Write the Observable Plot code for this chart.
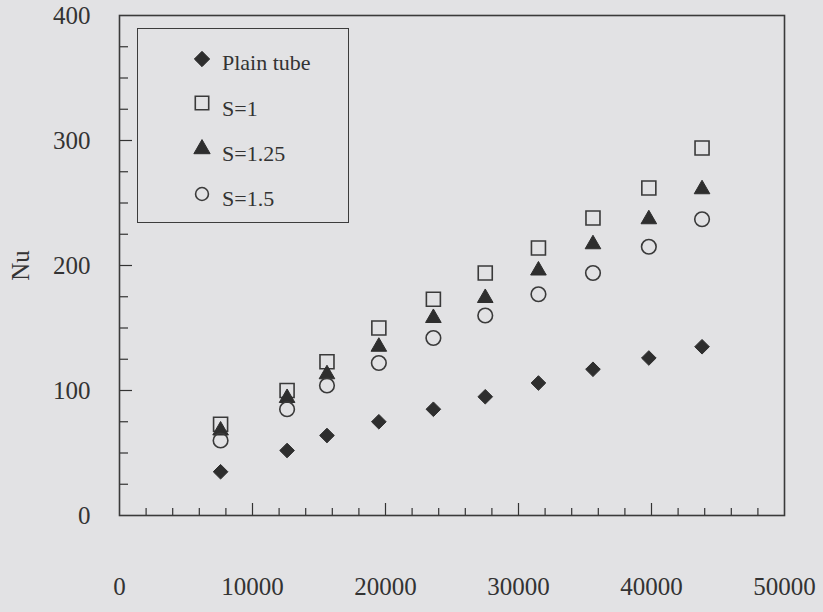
<!DOCTYPE html>
<html><head><meta charset="utf-8">
<script src="https://cdn.jsdelivr.net/npm/d3@7"></script>
<script src="https://cdn.jsdelivr.net/npm/@observablehq/plot@0.6"></script>
<style>
body{margin:0;background:#e2e2e4;}
#wrap{position:relative;width:823px;height:612px;background:#e2e2e4;font-family:"Liberation Serif",serif;color:#333;overflow:hidden;}
#wrap svg.plot{position:absolute;left:0;top:0;}
#legend{position:absolute;left:137px;top:28px;width:212px;height:195px;border:1.5px solid #3c3c3c;box-sizing:border-box;}
.sym{position:absolute;width:24px;height:24px;}
.lab{position:absolute;font-size:22px;line-height:26px;white-space:nowrap;color:#333;}
</style></head><body><div id="wrap"><div id="legend"></div></div>
<script>
// Reynolds number (x) and Nusselt number (y)
const re = [7600, 12600, 15600, 19500, 23600, 27500, 31500, 35600, 39800, 43800];
const plainTube = [35, 52, 64, 75, 85, 95, 106, 117, 126, 135];
const s1 = [73, 100, 123, 150, 173, 194, 214, 238, 262, 294];
const s125 = [68, 94, 113, 135, 158, 174, 196, 217, 237, 261];
const s15 = [60, 85, 104, 122, 142, 160, 177, 194, 215, 237];
const seriesNames = ["Plain tube", "S=1", "S=1.25", "S=1.5"];
const xTickLabels = [0, 10000, 20000, 30000, 40000, 50000];
const yTickLabels = [0, 100, 200, 300, 400];
const xMajorTicks = [10000, 20000, 30000, 40000];
const xMinorTicks = d3.range(2000, 50000, 2000).filter(v => v % 10000 !== 0);
const yMajorTicks = [100, 200, 300];
const yMinorTicks = d3.range(25, 400, 25).filter(v => v % 100 !== 0);

const W = 823, H = 612, mL = 119, mR = 39, mT = 15, mB = 97;
const plotW = W - mL - mR, plotH = H - mT - mB;
const ink = "#333";
const pts = arr => arr.map((v, i) => ({x: re[i], y: v}));

const chart = Plot.plot({
  width: W, height: H,
  marginLeft: mL, marginRight: mR, marginTop: mT, marginBottom: mB,
  style: {background: "transparent", fontFamily: "Liberation Serif, serif", color: ink},
  x: {domain: [0, 50000]},
  y: {domain: [0, 400]},
  marks: [
    Plot.axisX(xTickLabels, {tickSize: 0, tickPadding: 62, fontSize: 25, tickFormat: d => String(d), label: null}),
    Plot.axisY(yTickLabels, {tickSize: 0, tickPadding: 29, fontSize: 25, tickFormat: d => String(d), label: "Nu", labelAnchor: "center", labelArrow: "none", labelOffset: 108}),
    Plot.tickX(xMinorTicks, {x: d => d, insetTop: plotH - 7, stroke: ink, strokeWidth: 1.2}),
    Plot.tickX(xMajorTicks, {x: d => d, insetTop: plotH - 12, stroke: ink, strokeWidth: 1.2}),
    Plot.tickY(yMinorTicks, {y: d => d, insetRight: plotW - 9, stroke: ink, strokeWidth: 1.2}),
    Plot.tickY(yMajorTicks, {y: d => d, insetRight: plotW - 13, stroke: ink, strokeWidth: 1.2}),
    Plot.frame({stroke: "#3a3a3a", strokeWidth: 1.6}),
    Plot.dot(pts(plainTube), {x: "x", y: "y", symbol: "diamond2", r: 6.6, fill: "#2e2e2e", stroke: "#2e2e2e", strokeWidth: 1}),
    Plot.dot(pts(s1), {x: "x", y: "y", symbol: "square", r: 7.9, fill: "none", stroke: "#3a3a3a", strokeWidth: 1.6}),
    Plot.dot(pts(s125), {x: "x", y: "y", symbol: "triangle", r: 5.8, fill: "#2e2e2e", stroke: "#2e2e2e", strokeWidth: 1}),
    Plot.dot(pts(s15), {x: "x", y: "y", symbol: "circle", r: 7.3, fill: "none", stroke: "#3a3a3a", strokeWidth: 1.6})
  ]
});
chart.classList.add("plot");
document.getElementById("wrap").insertBefore(chart, document.getElementById("legend"));

// legend
const legend = document.getElementById("legend");
const symDefs = [
  {type: d3.symbolDiamond2, size: 150, fill: "#2e2e2e", stroke: "#2e2e2e", sw: 1},
  {type: d3.symbolSquare, size: 180, fill: "none", stroke: "#3a3a3a", sw: 1.6},
  {type: d3.symbolTriangle, size: 115, fill: "#2e2e2e", stroke: "#2e2e2e", sw: 1},
  {type: d3.symbolCircle, size: 130, fill: "none", stroke: "#3a3a3a", sw: 1.6}
];
const symY = [30, 74, 120, 165];
const labY = [34, 80, 125, 170];
seriesNames.forEach((name, i) => {
  const s = symDefs[i];
  const svg = d3.create("svg").attr("class", "sym").attr("viewBox", "-12 -12 24 24")
    .style("left", (64 - 12) + "px").style("top", (symY[i] - 12) + "px");
  svg.append("path").attr("d", d3.symbol(s.type, s.size)())
    .attr("fill", s.fill).attr("stroke", s.stroke).attr("stroke-width", s.sw);
  legend.appendChild(svg.node());
  const span = document.createElement("span");
  span.className = "lab";
  span.textContent = name;
  span.style.left = "84px";
  span.style.top = (labY[i] - 13) + "px";
  legend.appendChild(span);
});
</script>
</body></html>
